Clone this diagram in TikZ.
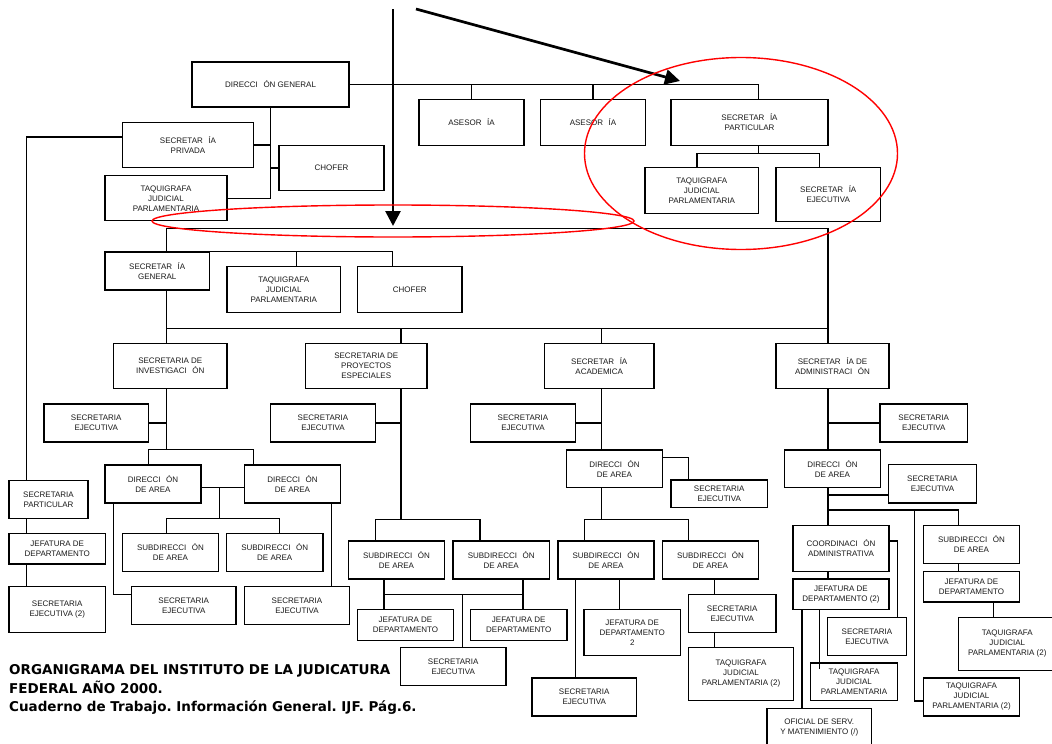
\documentclass[tikz,border=0pt]{standalone}
\usepackage{fontspec}
\setmainfont{Liberation Sans}
\newfontfamily\capfont{DejaVu Sans}
\usetikzlibrary{arrows.meta}
\frenchspacing

\newcommand{\gp}{\hspace{0.7em}}

\tikzset{
  box/.style={draw, line width=1.3pt, align=center, inner sep=1pt,
    font=\fontsize{8}{10}\selectfont, text=black!90},
  link/.style={line width=1.2pt},
  redring/.style={draw=red, line width=1.4pt},
  bigarrow/.style={line width=2.7pt, -{Triangle[length=15pt,width=15pt]}},
}

\begin{document}
\begin{tikzpicture}[x=1pt, y=-1pt]
  \useasboundingbox (0,0) rectangle (1052,744);

  % top level
  \node [box,minimum width=157pt,minimum height=45pt] (dg) at (270.5,84.5) {DIRECCI\gp ÓN GENERAL};
  \node [box,minimum width=131pt,minimum height=45pt] (priv) at (188,145) {SECRETAR\gp ÍA\\PRIVADA};
  \node [box,minimum width=105pt,minimum height=45pt] (chof1) at (331.5,168) {CHOFER};
  \node [box,minimum width=122pt,minimum height=45pt] (taq1) at (166,198.25) {TAQUIGRAFA\\JUDICIAL\\PARLAMENTARIA};
  \node [box,minimum width=105pt,minimum height=46pt] (ases1) at (471.5,122.5) {ASESOR\gp ÍA};
  \node [box,minimum width=105pt,minimum height=46pt] (ases2) at (593,122.5) {ASESOR\gp ÍA};
  \node [box,minimum width=157pt,minimum height=46pt] (spart) at (749.5,122.5) {SECRETAR\gp ÍA\\PARTICULAR};
  \node [box,minimum width=113.5pt,minimum height=46pt] (taq2) at (701.75,190.5) {TAQUIGRAFA\\JUDICIAL\\PARLAMENTARIA};
  \node [box,minimum width=104.5pt,minimum height=54pt] (sejec0) at (828.25,194.5) {SECRETAR\gp ÍA\\EJECUTIVA};

  % secretaria general
  \node [box,minimum width=104.5pt,minimum height=38pt] (sg) at (157.25,271) {SECRETAR\gp ÍA\\GENERAL};
  \node [box,minimum width=113.5pt,minimum height=46pt] (taq3) at (283.75,289.5) {TAQUIGRAFA\\JUDICIAL\\PARLAMENTARIA};
  \node [box,minimum width=104.5pt,minimum height=46pt] (chof2) at (409.75,289.5) {CHOFER};

  \node [box,minimum width=113.5pt,minimum height=45pt] (sinv) at (170.25,366) {SECRETARIA DE\\INVESTIGACI\gp ÓN};
  \node [box,minimum width=121.5pt,minimum height=45pt] (sproy) at (366.25,366) {SECRETARIA DE\\PROYECTOS\\ESPECIALES};
  \node [box,minimum width=109.5pt,minimum height=45pt] (sacad) at (599.25,366) {SECRETAR\gp ÍA\\ACADEMICA};
  \node [box,minimum width=113pt,minimum height=45pt] (sadm) at (832.5,366) {SECRETAR\gp ÍA DE\\ADMINISTRACI\gp ÓN};

  \node [box,minimum width=104.5pt,minimum height=38pt] (seinv) at (96.25,423) {SECRETARIA\\EJECUTIVA};
  \node [box,minimum width=105pt,minimum height=38pt] (seproy) at (323,423) {SECRETARIA\\EJECUTIVA};
  \node [box,minimum width=105pt,minimum height=38pt] (seacad) at (523,423) {SECRETARIA\\EJECUTIVA};
  \node [box,minimum width=87.5pt,minimum height=38pt] (seadm) at (923.75,423) {SECRETARIA\\EJECUTIVA};

  % investigacion
  \node [box,minimum width=96pt,minimum height=38pt] (dainv1) at (153,484) {DIRECCI\gp ÓN\\DE AREA};
  \node [box,minimum width=96pt,minimum height=38pt] (dainv2) at (292.5,484) {DIRECCI\gp ÓN\\DE AREA};
  \node [box,minimum width=96pt,minimum height=38pt] (subinv1) at (170.5,552.5) {SUBDIRECCI\gp ÓN\\DE AREA};
  \node [box,minimum width=96.5pt,minimum height=38pt] (subinv2) at (274.75,552.5) {SUBDIRECCI\gp ÓN\\DE AREA};
  \node [box,minimum width=104.5pt,minimum height=38pt] (seinv1) at (183.75,605.5) {SECRETARIA\\EJECUTIVA};
  \node [box,minimum width=105pt,minimum height=38pt] (seinv2) at (297,605.5) {SECRETARIA\\EJECUTIVA};

  % left column
  \node [box,minimum width=79pt,minimum height=38pt] (spart2) at (48.5,499.5) {SECRETARIA\\PARTICULAR};
  \node [box,minimum width=96.5pt,minimum height=30.5pt] (jef0) at (57.25,548.75) {JEFATURA DE\\DEPARTAMENTO};
  \node [box,minimum width=96.5pt,minimum height=46pt] (seL) at (57.25,609.5) {SECRETARIA\\EJECUTIVA (2)};

  % proyectos
  \node [box,minimum width=96pt,minimum height=38pt] (subp1) at (396.5,560) {SUBDIRECCI\gp ÓN\\DE AREA};
  \node [box,minimum width=96.5pt,minimum height=38pt] (subp2) at (501.25,560) {SUBDIRECCI\gp ÓN\\DE AREA};
  \node [box,minimum width=96pt,minimum height=31pt] (jefp1) at (405.5,625) {JEFATURA DE\\DEPARTAMENTO};
  \node [box,minimum width=96.5pt,minimum height=31pt] (jefp2) at (518.75,625) {JEFATURA DE\\DEPARTAMENTO};
  \node [box,minimum width=105.5pt,minimum height=38pt] (sep) at (453.25,666.5) {SECRETARIA\\EJECUTIVA};

  % academica
  \node [box,minimum width=96pt,minimum height=37.5pt] (daacad) at (614.5,468.75) {DIRECCI\gp ÓN\\DE AREA};
  \node [box,minimum width=96.5pt,minimum height=27.5pt] (seda) at (719.25,493.75) {SECRETARIA\\EJECUTIVA};
  \node [box,minimum width=96pt,minimum height=38pt] (suba1) at (606,560) {SUBDIRECCI\gp ÓN\\DE AREA};
  \node [box,minimum width=96pt,minimum height=38pt] (suba2) at (710.5,560) {SUBDIRECCI\gp ÓN\\DE AREA};
  \node [box,minimum width=96.5pt,minimum height=46pt] (jefa) at (632.25,632.5) {JEFATURA DE\\DEPARTAMENTO\\2};
  \node [box,minimum width=104.5pt,minimum height=38pt] (seab) at (584.25,697) {SECRETARIA\\EJECUTIVA};
  \node [box,minimum width=87.5pt,minimum height=38pt] (sea2) at (732.25,613.5) {SECRETARIA\\EJECUTIVA};
  \node [box,minimum width=105pt,minimum height=53pt] (taqa) at (741,674) {TAQUIGRAFA\\JUDICIAL\\PARLAMENTARIA (2)};

  % administracion
  \node [box,minimum width=96pt,minimum height=37.5pt] (daadm) at (832.5,468.75) {DIRECCI\gp ÓN\\DE AREA};
  \node [box,minimum width=88pt,minimum height=38.5pt] (sead) at (932.5,483.75) {SECRETARIA\\EJECUTIVA};
  \node [box,minimum width=96pt,minimum height=46pt] (coord) at (841,548.5) {COORDINACI\gp ÓN\\ADMINISTRATIVA};
  \node [box,minimum width=96pt,minimum height=30.5pt] (jefadm) at (841,594.25) {JEFATURA DE\\DEPARTAMENTO (2)};
  \node [box,minimum width=79pt,minimum height=38pt] (secoord) at (867,636.5) {SECRETARIA\\EJECUTIVA};
  \node [box,minimum width=87pt,minimum height=37.5pt] (taqadm) at (854,681.75) {TAQUIGRAFA\\JUDICIAL\\PARLAMENTARIA};
  \node [box,minimum width=104.5pt,minimum height=38pt] (ofi) at (819.25,727.5) {OFICIAL DE SERV.\\Y MATENIMIENTO (/)};
  \node [box,minimum width=96pt,minimum height=38pt] (subadm) at (971.5,544.5) {SUBDIRECCI\gp ÓN\\DE AREA};
  \node [box,minimum width=96pt,minimum height=30.5pt] (jefadm2) at (971.5,586.75) {JEFATURA DE\\DEPARTAMENTO};
  \node [box,minimum width=97.5pt,minimum height=53pt] (taqadmr) at (1007.25,644) {TAQUIGRAFA\\JUDICIAL\\PARLAMENTARIA (2)};
  \node [box,minimum width=96pt,minimum height=38pt] (taqadm2) at (971.5,697) {TAQUIGRAFA\\JUDICIAL\\PARLAMENTARIA (2)};

  % connectors, top
  \draw [link] (dg.south) |- (taq1.east);
  \draw [link] (priv.east) -- (priv.east -| dg.south);
  \draw [link] (chof1.west) -- (chof1.west -| dg.south);
  \draw [link] (dg.east) -| ([xshift=9pt]spart.north);
  \draw [link] (ases1.north) -- (ases1.north |- dg.east);
  \draw [link] (ases2.north) -- (ases2.north |- dg.east);
  \draw [link] ([xshift=9pt]spart.south) -- ++(0,7.5) coordinate (jpart);
  \draw [link] ([xshift=-4.75pt]taq2.north) |- (jpart) -| ([xshift=-9pt]sejec0.north);
  \draw [link] ([yshift=8pt]priv.west) -| ([xshift=-21.8pt]spart2.north);
  \draw [link] ([xshift=-21.8pt]spart2.south) -- ([xshift=-30.55pt]jef0.north);
  \draw [link] ([xshift=-30.55pt]jef0.south) -- ([xshift=-30.55pt]seL.north);

  % connectors, secretaria general
  \draw [link] ([xshift=9pt]sg.north) -- ++(0,-23) -| ([xshift=-4.5pt]sadm.north);
  \draw [link] (sg.north east) -| ([xshift=-17pt]chof2.north);
  \draw [link] ([xshift=13pt]taq3.north) -- ([xshift=13pt]taq3.north |- sg.north);
  \draw [link] ([xshift=9pt]sg.south) -- ++(0,37.7) coordinate (bus) -- ([xshift=-4.5pt]sadm.north |- bus);
  \draw [link] ([xshift=-4pt]sinv.north) -- ([xshift=-4pt]sinv.north |- bus);
  \draw [link] ([xshift=34.75pt]sproy.north) -- ([xshift=34.75pt]sproy.north |- bus);
  \draw [link] ([xshift=2.5pt]sacad.north) -- ([xshift=2.5pt]sacad.north |- bus);

  % investigacion
  \draw [link] ([xshift=-4pt]sinv.south) -- ++(0,61.3) coordinate (jinv);
  \draw [link] (seinv.east) -- (seinv.east -| jinv);
  \draw [link] ([xshift=-4.3pt]dainv1.north) -- ++(0,-15) -| ([xshift=-39.2pt]dainv2.north);
  \draw [link] ([yshift=-3.7pt]dainv1.east) -- ([yshift=-3.7pt]dainv2.west);
  \draw [link] ([xshift=17.7pt,yshift=-3.7pt]dainv1.east) -- ++(0,31) coordinate (jsub);
  \draw [link] ([xshift=-4.2pt]subinv1.north) |- (jsub) -| ([xshift=4.95pt]subinv2.north);
  \draw [link] ([xshift=-39.3pt]dainv1.south) |- ([yshift=11.2pt]seinv1.west);
  \draw [link] ([xshift=39.2pt]dainv2.south) -- ([xshift=39.2pt]dainv2.south |- seinv2.north);

  % proyectos
  \draw [link] ([xshift=34.75pt]sproy.south) -- ++(0,130) coordinate (jproy);
  \draw [link] (seproy.east) -- (seproy.east -| jproy);
  \draw [link] ([xshift=-21.2pt]subp1.north) |- (jproy) -| ([xshift=-21.25pt]subp2.north);
  \draw [link] ([xshift=-12.5pt]subp1.south) -- ([xshift=-12.5pt]subp1.south |- jefp1.north);
  \draw [link] ([xshift=-12.5pt,yshift=-14.8pt]subp1.south) -- ([xshift=21.75pt,yshift=-14.8pt]subp2.south);
  \draw [link] ([xshift=21.75pt]subp2.south) -- ([xshift=21.75pt]subp2.south |- jefp2.north);
  \draw [link] ([xshift=9pt]sep.north) -- ++(0,-53.2);

  % academica
  \draw [link] ([xshift=2.5pt]sacad.south) -- ([xshift=2.5pt]sacad.south |- daacad.north);
  \draw [link] (seacad.east) -- ([xshift=2.5pt]sacad.south |- seacad.east);
  \draw [link] ([yshift=11.45pt]daacad.east) -| ([xshift=-30.55pt]seda.north);
  \draw [link] ([xshift=-12.8pt]daacad.south) -- ++(0,31.2) coordinate (jacad);
  \draw [link] ([xshift=-21.7pt]suba1.north) |- (jacad) -| ([xshift=-21.8pt]suba2.north);
  \draw [link] ([xshift=-30.7pt]suba1.south) -- ([xshift=-30.7pt]suba1.south |- seab.north);
  \draw [link] ([xshift=13.7pt]suba1.south) -- ([xshift=13.7pt]suba1.south |- jefa.north);
  \draw [link] ([xshift=4.2pt]suba2.south) -- ([xshift=4.2pt]suba2.south |- sea2.north);
  \draw [link] ([xshift=-17.55pt]sea2.south) -- ([xshift=-17.55pt]sea2.south |- taqa.north);

  % administracion
  \draw [link] ([xshift=-4.5pt]sadm.south) -- ([xshift=-4.5pt]sadm.south |- daadm.north);
  \draw [link] (seadm.west) -- ([xshift=-4.5pt]sadm.south |- seadm.west);
  \draw [link] ([xshift=-4.5pt]daadm.south) -- ([xshift=-13pt]coord.north);
  \draw [link] ([yshift=-11.25pt]sead.west) -- ++(-60.5,0);
  \draw [link] ([xshift=-13pt,yshift=14.8pt]coord.north) -| ([xshift=-13.2pt]subadm.north);
  \draw [link] ([yshift=-4pt]taqadm2.west) -| ([xshift=-56.8pt,yshift=14.8pt]subadm.north);
  \draw [link] ([yshift=7.5pt]coord.east) -| ([xshift=30.7pt]secoord.north);
  \draw [link] ([xshift=-13pt]coord.south) -- ([xshift=-13pt]jefadm.north);
  \draw [link] ([xshift=-39pt]jefadm.south) -- ([xshift=-39pt]jefadm.south |- ofi.north);
  \draw [link] ([xshift=-21.7pt]jefadm.south) -- ([xshift=-21.7pt,yshift=-7pt]jefadm.south |- taqadm.north);
  \draw [link] ([xshift=-13.2pt]subadm.south) -- ([xshift=-13.2pt]jefadm2.north);
  \draw [link] ([xshift=22.2pt]jefadm2.south) -- ([xshift=22.2pt]jefadm2.south |- taqadmr.north);

  % marks
  \coordinate (a1) at (393,9);
  \coordinate (a1e) at (393,226);
  \coordinate (a2) at (416,9);
  \coordinate (a2e) at (680,81);
  \draw [bigarrow] (a1) -- (a1e);
  \draw [bigarrow] (a2) -- (a2e);
  \draw [redring] (393,221) ellipse [x radius=241pt, y radius=16pt];
  \draw [redring] (741,153.5) ellipse [x radius=156.5pt, y radius=96pt];

  \node [anchor=north west, inner sep=0pt, align=left,
    font=\capfont\bfseries\fontsize{13.5}{18.5}\selectfont] (caption) at (9,664.5)
    {ORGANIGRAMA DEL INSTITUTO DE LA JUDICATURA\\FEDERAL AÑO 2000.\\Cuaderno de Trabajo. Información General. IJF. Pág.6.};
\end{tikzpicture}
\end{document}
